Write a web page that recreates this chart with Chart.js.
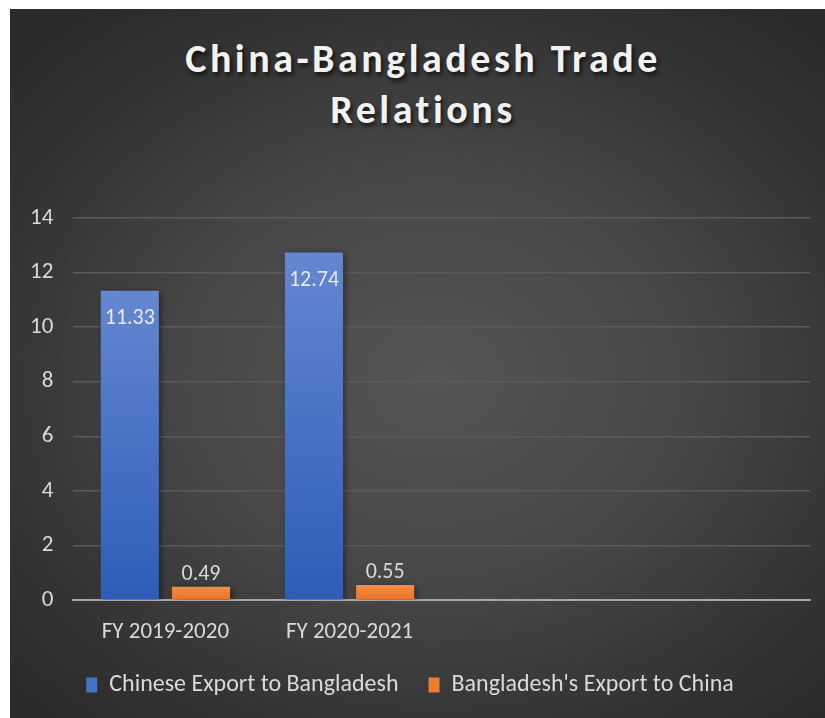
<!DOCTYPE html>
<html>
<head>
<meta charset="utf-8">
<script src="https://cdn.jsdelivr.net/npm/chart.js@4"></script>
<style>
  body { margin: 0; background: #fff; }
  #panel {
    position: absolute; left: 10px; top: 9px; width: 815px; height: 709px;
    background: radial-gradient(ellipse 70% 65% at 52% 52%, #555555 0%, #474747 45%, #333333 80%, #2b2b2b 100%);
  }
  #title {
    position: absolute; left: 0; width: 826px; top: 24px;
    text-align: center; color: #f2f2f2;
    font: bold 40px Carlito, Lato, sans-serif; letter-spacing: 3.5px; line-height: 51px;
    text-shadow: 2px 3px 4px rgba(0,0,0,0.7);
  }
  canvas { position: absolute; left: 0; top: 0; }
</style>
</head>
<body>
<div id="panel">
  <div id="title">China-Bangladesh Trade<br>Relations</div>
  <canvas id="tradeChart" width="815" height="709"></canvas>
</div>
<script>
// Chart data
const categories = ['FY 2019-2020', 'FY 2020-2021', '', ''];
const chineseExport = [11.33, 12.74, null, null];
const bangladeshExport = [0.49, 0.55, null, null];
const seriesNames = ['Chinese Export to Bangladesh', "Bangladesh's Export to China"];
const yTicks = [0, 2, 4, 6, 8, 10, 12, 14];

const fontFamily = 'Carlito, Lato, sans-serif';
const textColor = '#d9d9d9';
const solidColors = ['#4472c4', '#ed7d31'];
const gradColors = [['#6487d0', '#2d5db8'], ['#f48c48', '#ec7224']];

// Per-bar vertical gradient
function barGradient(idx) {
  return function(ctx) {
    const chart = ctx.chart;
    const y = chart.scales.y;
    if (!y || ctx.raw == null) return solidColors[idx];
    const top = y.getPixelForValue(ctx.raw);
    const bottom = y.getPixelForValue(0);
    const g = chart.ctx.createLinearGradient(0, top, 0, bottom);
    g.addColorStop(0, gradColors[idx][0]);
    g.addColorStop(1, gradColors[idx][1]);
    return g;
  };
}

// Data labels: first series inside end, second series outside end
const valueLabels = {
  id: 'valueLabels',
  afterDatasetsDraw(chart) {
    const ctx = chart.ctx;
    ctx.save();
    ctx.font = '22px ' + fontFamily;
    ctx.textAlign = 'center';
    ctx.textBaseline = 'middle';
    chart.data.datasets.forEach((ds, i) => {
      chart.getDatasetMeta(i).data.forEach((bar, j) => {
        const v = ds.data[j];
        if (v == null) return;
        if (i === 0) {
          ctx.fillStyle = '#e8e8e8';
          ctx.fillText(v.toFixed(2), bar.x, bar.y + 28);
        } else {
          ctx.fillStyle = textColor;
          ctx.fillText(v.toFixed(2), bar.x, bar.y - 12);
        }
      });
    });
    ctx.restore();
  }
};

// Soft shadow behind bars
const barShadow = {
  id: 'barShadow',
  beforeDatasetsDraw(chart) {
    const ctx = chart.ctx;
    ctx.save();
    ctx.shadowColor = 'rgba(0,0,0,0.45)';
    ctx.shadowBlur = 6;
    ctx.shadowOffsetX = 2;
    ctx.shadowOffsetY = 1;
  },
  afterDatasetsDraw(chart) {
    chart.ctx.restore();
  }
};

new Chart(document.getElementById('tradeChart'), {
  type: 'bar',
  data: {
    labels: categories,
    datasets: [
      { label: seriesNames[0], data: chineseExport, backgroundColor: barGradient(0),
        barPercentage: 0.817, categoryPercentage: 0.773 },
      { label: seriesNames[1], data: bangladeshExport, backgroundColor: barGradient(1),
        barPercentage: 0.817, categoryPercentage: 0.773 }
    ]
  },
  options: {
    responsive: false,
    animation: false,
    layout: { padding: { top: 209, left: 0, right: 15, bottom: 11 } },
    plugins: {
      title: { display: false },
      tooltip: { enabled: false },
      legend: {
        position: 'bottom',
        labels: {
          color: textColor,
          font: { family: fontFamily, size: 24 },
          boxWidth: 11,
          boxHeight: 15,
          padding: 30,
          generateLabels: () => seriesNames.map((name, i) => ({
            text: name, fillStyle: solidColors[i], strokeStyle: solidColors[i],
            lineWidth: 0, fontColor: textColor, datasetIndex: i
          }))
        }
      }
    },
    scales: {
      x: {
        grid: { display: false, drawTicks: false },
        border: { color: '#a6a6a6', width: 2 },
        ticks: { color: textColor, font: { family: fontFamily, size: 23 }, padding: 18 },
        // shorter axis box so the legend sits closer to the category labels
        afterFit: axis => { axis.height = 43; }
      },
      y: {
        min: 0,
        max: 14,
        afterBuildTicks: axis => { axis.ticks = yTicks.map(v => ({ value: v })); },
        grid: { color: '#5a5a5a', lineWidth: 1.5, drawTicks: false },
        border: { display: false },
        ticks: { color: textColor, font: { family: fontFamily, size: 23 }, padding: 20 }
      }
    }
  },
  plugins: [barShadow, valueLabels]
});
</script>
</body>
</html>
